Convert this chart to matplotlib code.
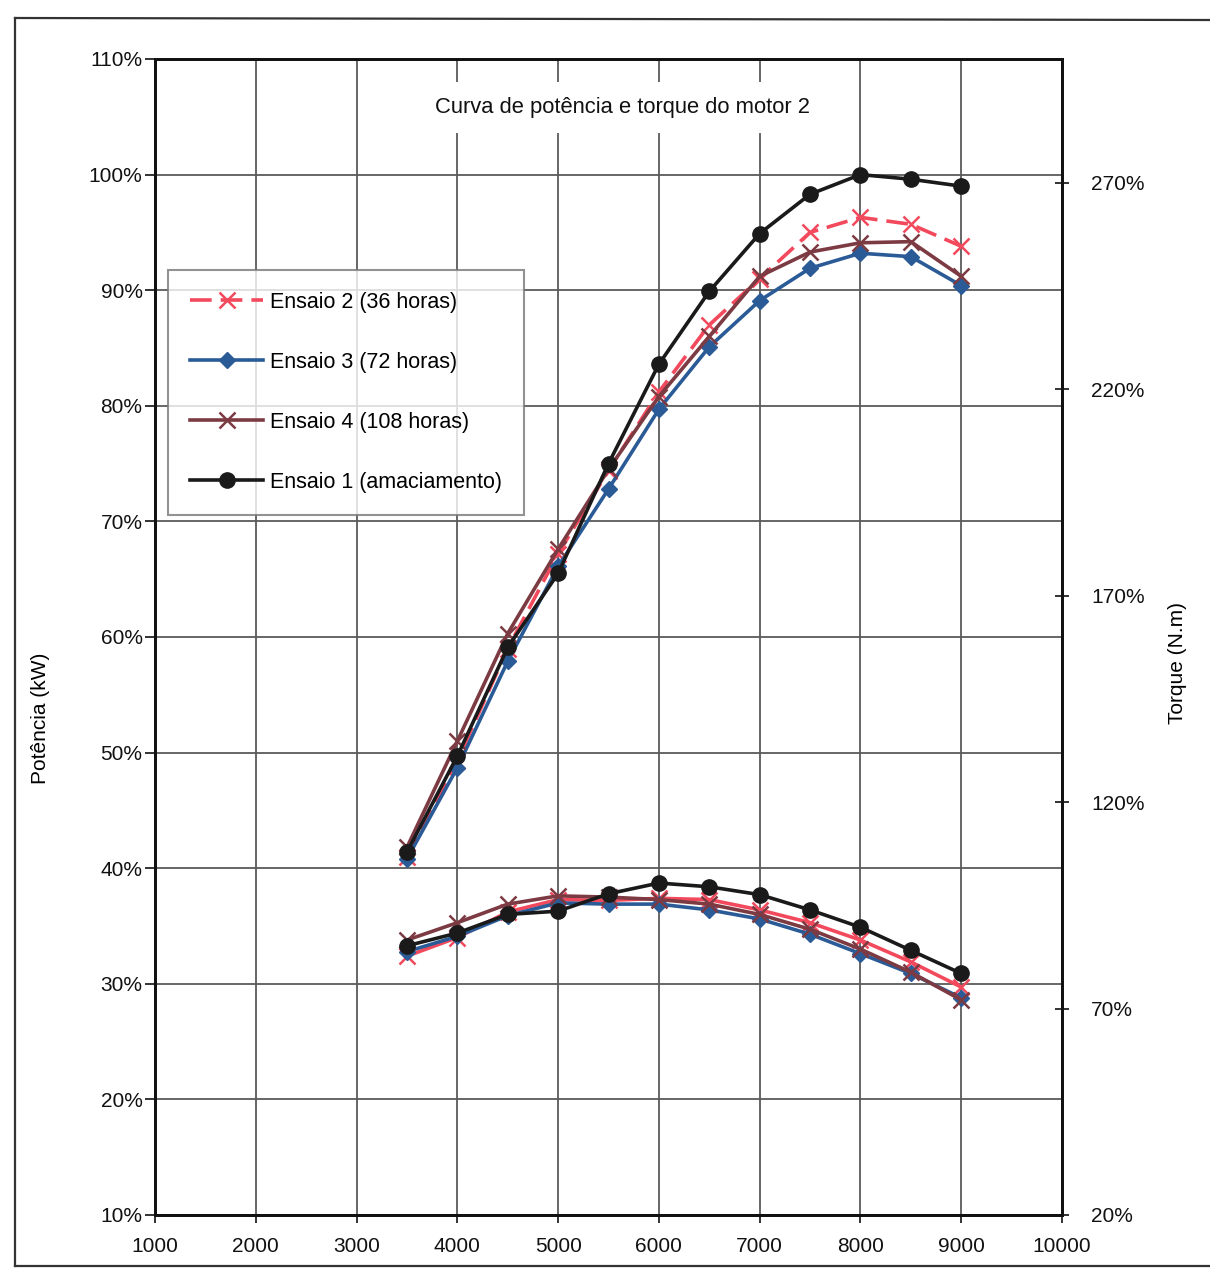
import matplotlib
matplotlib.use("Agg")
import matplotlib.pyplot as plt
from matplotlib.ticker import PercentFormatter, MultipleLocator, FixedLocator
from matplotlib.lines import Line2D

plt.rcParams['font.family'] = ['Liberation Sans', 'DejaVu Sans']

# Engine speed (rpm)
rpm = [3500, 4000, 4500, 5000, 5500, 6000, 6500, 7000, 7500, 8000, 8500, 9000]

# Power curves (left axis, %)
pot_ensaio2 = [41.0, 49.3, 59.0, 67.2, 74.4, 81.2, 87.0, 91.0, 95.0, 96.3, 95.7, 93.8]
pot_ensaio3 = [40.8, 48.7, 57.9, 66.1, 72.8, 79.7, 85.1, 89.1, 91.9, 93.2, 92.9, 90.4]
pot_ensaio4 = [41.8, 51.0, 60.3, 67.6, 74.5, 80.8, 86.0, 91.2, 93.3, 94.1, 94.2, 91.2]
pot_ensaio1 = [41.4, 49.7, 59.1, 65.5, 75.0, 83.6, 89.9, 94.9, 98.3, 100.0, 99.6, 99.0]

# Torque curves (right axis, %)
tor_ensaio2 = [82.7, 87.2, 93.4, 96.4, 96.2, 96.7, 96.4, 93.9, 90.8, 86.6, 81.3, 75.2]
tor_ensaio3 = [83.8, 87.5, 92.5, 95.6, 95.3, 95.3, 93.9, 91.7, 88.0, 83.3, 78.5, 72.6]
tor_ensaio4 = [86.6, 90.8, 95.3, 97.3, 97.0, 96.4, 95.3, 92.8, 89.2, 84.4, 78.8, 72.1]
tor_ensaio1 = [85.2, 88.3, 92.8, 93.6, 97.8, 100.4, 99.5, 97.6, 93.9, 89.7, 84.1, 78.5]

labels = ["Ensaio 2 (36 horas)", "Ensaio 3 (72 horas)",
          "Ensaio 4 (108 horas)", "Ensaio 1 (amaciamento)"]

x_ticks = [1000, 2000, 3000, 4000, 5000, 6000, 7000, 8000, 9000, 10000]
right_ticks = [20, 70, 120, 170, 220, 270]

RED = "#f2495c"
BLUE = "#2b5b96"
BROWN = "#7c3a42"
BLACK = "#1a1a1a"

styles = [
    dict(color=RED, marker="x", markersize=12, markeredgewidth=1.8, lw=2.6),
    dict(color=BLUE, marker="D", markersize=8, lw=2.6),
    dict(color=BROWN, marker="x", markersize=12, markeredgewidth=1.8, lw=2.6),
    dict(color=BLACK, marker="o", markersize=11, lw=2.6),
]

W, H = 1210, 1269
fig = plt.figure(figsize=(W / 100, H / 100), dpi=100)
fig.patch.set_facecolor("white")

# outer frame around the chart
frame_kw = dict(color="#333333", lw=1.6, transform=fig.transFigure)
fig.add_artist(Line2D([15 / W, 15 / W], [1 - 18 / H, 1 - 1266 / H], **frame_kw))
fig.add_artist(Line2D([15 / W, 1.0], [1 - 18 / H, 1 - 20 / H], **frame_kw))
fig.add_artist(Line2D([15 / W, 1.0], [1 - 1266 / H, 1 - 1266 / H], **frame_kw))

ax = fig.add_axes([155 / W, 1 - 1215 / H, (1062 - 155) / W, (1215 - 59) / H])
ax2 = ax.twinx()

pot = [pot_ensaio2, pot_ensaio3, pot_ensaio4, pot_ensaio1]
tor = [tor_ensaio2, tor_ensaio3, tor_ensaio4, tor_ensaio1]

handles = []
for i, (p, st) in enumerate(zip(pot, styles)):
    ls = (0, (6, 2.5)) if i == 0 else "-"
    h, = ax.plot(rpm, p, linestyle=ls, label=labels[i], **st)
    handles.append(h)
for t, st in zip(tor, styles):
    ax2.plot(rpm, t, linestyle="-", **st)

ax.set_xlim(1000, 10000)
ax.set_ylim(10, 110)
ax2.set_ylim(20, 300)
ax.xaxis.set_major_locator(FixedLocator(x_ticks))
ax.yaxis.set_major_locator(MultipleLocator(10))
ax.yaxis.set_major_formatter(PercentFormatter(decimals=0))
ax2.yaxis.set_major_locator(FixedLocator(right_ticks))
ax2.yaxis.set_major_formatter(PercentFormatter(decimals=0))

ax.grid(True, color="#5a5a5a", lw=1.3)
ax.set_axisbelow(True)

for a in (ax, ax2):
    for s in a.spines.values():
        s.set_color("#111111")
        s.set_linewidth(2.0)

ax.tick_params(axis="y", direction="out", length=7, width=1.2, pad=2,
               labelsize=15, colors="#111111")
ax.tick_params(axis="x", direction="out", length=6, width=1.2, pad=10,
               labelsize=15, colors="#111111")
ax2.tick_params(axis="y", direction="inout", length=10, width=1.2, pad=16,
                labelsize=15, colors="#111111")

ax.set_ylabel("Potência (kW)", fontsize=15)
ax.yaxis.set_label_coords(-0.116, 0.43)
ax2.set_ylabel("Torque (N.m)", fontsize=15)
ax2.yaxis.set_label_coords(1.117, 0.4775)

ax.text(0.515, 0.958, "Curva de potência e torque do motor 2", transform=ax.transAxes,
        ha="center", va="center", fontsize=15.8, color="#111111",
        bbox=dict(facecolor="white", edgecolor="none", pad=11), zorder=5)

leg = ax2.legend(handles, labels, loc="upper left", bbox_to_anchor=(0.0143, 0.8175),
                 borderaxespad=0, fontsize=15.5, frameon=True, fancybox=False,
                 edgecolor="#777777", handlelength=3.4, handletextpad=0.3,
                 labelspacing=1.81, borderpad=1.02)
leg.get_frame().set_linewidth(1.5)

fig.savefig("out.png", dpi=100, facecolor="white")
